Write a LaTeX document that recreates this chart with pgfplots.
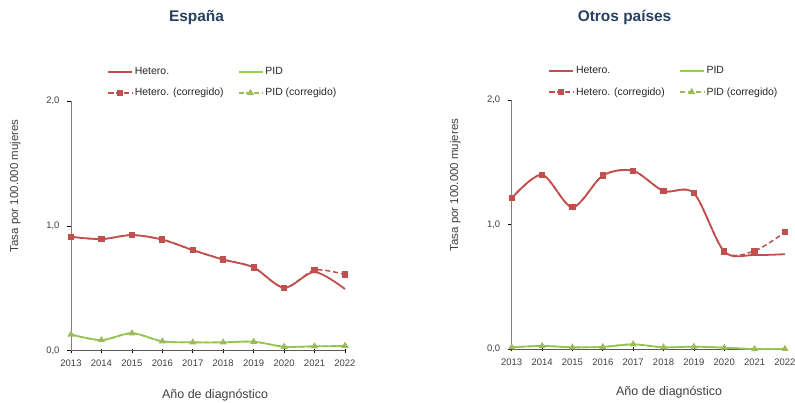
\documentclass[border=0pt]{standalone}
\usepackage{fontspec}
\setmainfont{Liberation Sans}
\usepackage{pgfplots}
\usepackage{pgfplotstable}
\pgfplotsset{compat=1.18}

\definecolor{hetred}{RGB}{192,80,77}
\definecolor{pidgreen}{RGB}{146,208,80}
\definecolor{pidolive}{RGB}{155,187,89}
\definecolor{titleblue}{RGB}{38,64,96}
\definecolor{txtgray}{RGB}{64,64,64}

% tasas por 100.000 mujeres
\pgfplotstableread{
year hetero heteroc pid    pidc
2013 0.912  0.912   0.130  0.130
2014 0.894  0.894   0.085  0.085
2015 0.926  0.926   0.140  0.140
2016 0.890  0.890   0.075  0.075
2017 0.806  0.806   0.067  0.067
2018 0.730  0.730   0.067  0.067
2019 0.667  0.667   0.072  0.072
2020 0.504  0.504   0.032  0.032
2021 0.630  0.645   0.035  0.035
2022 0.494  0.610   0.037  0.040
}\espana

\pgfplotstableread{
year hetero heteroc pid    pidc
2013 1.213  1.213   0.016  0.016
2014 1.400  1.400   0.027  0.027
2015 1.140  1.140   0.016  0.016
2016 1.394  1.394   0.019  0.019
2017 1.432  1.432   0.040  0.040
2018 1.270  1.270   0.016  0.016
2019 1.253  1.253   0.021  0.021
2020 0.784  0.784   0.013  0.013
2021 0.757  0.790   0.002  0.002
2022 0.763  0.940   0.003  0.003
}\otros

\pgfplotsset{
  tasa/.style={
    scale only axis, width=274bp, height=250bp,
    xmin=2013, xmax=2022, ymin=0, ymax=2,
    axis lines*=left, clip=false,
    xtick={2013,...,2022}, ytick={0,1,2},
    xtick align=center, ytick align=outside,
    major tick length=4bp,
    x axis line style={draw=black!65, line width=0.8pt},
    y axis line style={draw=black!50, line width=0.8pt},
    tick style={draw=black, line width=0.6pt},
    /pgf/number format/assume math mode=true,
    xticklabel style={font=\fontsize{9.5}{10}\selectfont, text=txtgray, yshift=-4bp,
      /pgf/number format/1000 sep={}},
    yticklabel style={font=\fontsize{9.5}{10}\selectfont, text=txtgray, xshift=-4bp,
      /pgf/number format/.cd, fixed, fixed zerofill, precision=1, use comma},
    title style={font=\bfseries\fontsize{15.5}{17}\selectfont, text=titleblue, anchor=center},
    xlabel style={font=\fontsize{12.5}{14}\selectfont, text=txtgray, anchor=center},
    ylabel style={font=\fontsize{11.5}{13}\selectfont, text=txtgray, anchor=center, rotate=0},
    legend columns=2, legend cell align=left,
    legend style={draw=none, fill=none, anchor=north west, inner sep=0pt,
      font=\fontsize{10.5}{12}\selectfont, text=black!85, row sep=8bp,
      /tikz/every even column/.append style={column sep=12bp}},
    legend image code/.code={\draw[#1,mark repeat=2,mark phase=2]
      plot coordinates {(0bp,0bp)(12bp,0bp)(24bp,0bp)};},
  },
  hsol/.style={hetred, line width=1.8pt, smooth, mark=none},
  psol/.style={pidgreen, line width=1.8pt, smooth, mark=none},
  hcor/.style={hetred, line width=1.5pt, smooth, dash pattern=on 5pt off 3pt,
    mark=square*, mark size=2.4bp, mark options={solid}},
  pcor/.style={pidolive, line width=1.5pt, smooth, dash pattern=on 5pt off 3pt,
    mark=triangle*, mark size=2.6bp, mark options={solid}},
}

\begin{document}
\begin{tikzpicture}
\useasboundingbox (0,0) rectangle (795bp,403bp);

\begin{axis}[tasa, at={(71bp,52.3bp)}, anchor=south west,
  width=274bp, height=249.7bp,
  title={España}, title style={at={(0.458,1.312)}},
  xlabel={Año de diagnóstico}, xlabel style={at={(0.526,-0.178)}},
  ylabel={Tasa por 100.000 mujeres}, ylabel style={at={(-0.204,0.66)}},
  legend style={at={(0.131,1.142)}}]
\addplot[hsol] table[x=year,y=hetero] {\espana};
\addplot[psol] table[x=year,y=pid] {\espana};
\addplot[hcor] table[x=year,y=heteroc] {\espana};
\addplot[pcor] table[x=year,y=pidc] {\espana};
\legend{Hetero., PID, Hetero. (corregido), PID (corregido)}
\end{axis}

\begin{axis}[tasa, at={(511.7bp,53.7bp)}, anchor=south west,
  width=273.3bp, height=249.3bp,
  title={Otros países}, title style={at={(0.413,1.309)}},
  xlabel={Año de diagnóstico}, xlabel style={at={(0.576,-0.172)}},
  ylabel={Tasa por 100.000 mujeres}, ylabel style={at={(-0.207,0.659)}},
  legend style={at={(0.133,1.142)}}]
\addplot[hsol] table[x=year,y=hetero] {\otros};
\addplot[psol] table[x=year,y=pid] {\otros};
\addplot[hcor] table[x=year,y=heteroc] {\otros};
\addplot[pcor] table[x=year,y=pidc] {\otros};
\legend{Hetero., PID, Hetero. (corregido), PID (corregido)}
\end{axis}
\end{tikzpicture}
\end{document}
